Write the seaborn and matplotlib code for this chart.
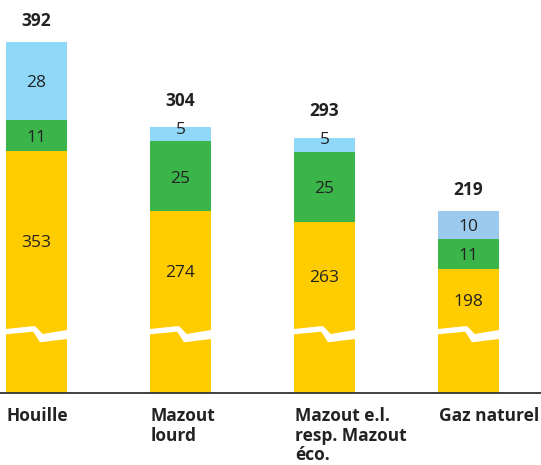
"""
Stacked bars with a broken (compressed) base segment.
"""

import matplotlib
matplotlib.use('Agg')
import matplotlib.pyplot as plt
import seaborn as sns
import numpy as np


# data
categories = ['Houille', 'Mazout\nlourd', 'Mazout e.l.\nresp. Mazout\néco.', 'Gaz naturel']
base_values = [353, 274, 263, 198]   # yellow
mid_values = [11, 25, 25, 11]        # green
top_values = [28, 5, 5, 10]          # light blue
totals = [392, 304, 293, 219]

# broken scale: bar tops follow the totals, small segments are enlarged
TOTAL_SCALE, TOTAL_SHIFT = 0.977, -32.0
SEG_SCALE = 2.8
BREAK_Y = 62.5

YELLOW = '#ffcc00'
GREEN = '#3bb54a'
BLUES = ['#8fd8f8', '#8fd8f8', '#8fd8f8', '#9ccaee']
TEXT = '#222222'
FONT = 'Open Sans'
FS = 12.5

BAR_W = 0.424
PX = 144.0  # pixels per category step


def main():
    sns.set_style('white')
    plt.rcParams['font.family'] = [FONT, 'DejaVu Sans']

    tot_h = np.array(totals) * TOTAL_SCALE + TOTAL_SHIFT
    top_h = np.array(top_values) * SEG_SCALE
    mid_h = np.array(mid_values) * SEG_SCALE
    base_h = tot_h - top_h - mid_h

    fig = plt.figure(figsize=(5.41, 4.65), dpi=100)
    ax = fig.add_axes([0, 0, 1, 1])

    bar_kw = dict(width=BAR_W, saturation=1, ax=ax, linewidth=0, edgecolor='none')
    sns.barplot(x=categories, y=tot_h, hue=categories, palette=BLUES, legend=False,
                zorder=2, **bar_kw)
    sns.barplot(x=categories, y=base_h + mid_h, color=GREEN, zorder=3, **bar_kw)
    sns.barplot(x=categories, y=base_h, color=YELLOW, zorder=4, **bar_kw)

    # break marks on the yellow segment
    top_edge = [(0, 63.5), (29, 66.5), (36.7, 58.5), (61, 62.5)]
    bot_edge = [(61, 53.5), (34, 50.2), (27.3, 60.8), (0, 58.2)]
    for i in range(len(categories)):
        left = i - BAR_W / 2
        pts = [(left + dx / PX, dy) for dx, dy in top_edge + bot_edge]
        ax.add_patch(plt.Polygon(pts, closed=True, facecolor='white',
                                 edgecolor='none', zorder=5))

    half_cap = 6.2
    for i in range(len(categories)):
        segs = [(BREAK_Y, base_h[i] - BREAK_Y, base_values[i]),
                (base_h[i], mid_h[i], mid_values[i]),
                (base_h[i] + mid_h[i], top_h[i], top_values[i])]
        for y0, h, v in segs:
            yc = y0 + h / 2
            if h < 18:
                yc += 7
            ax.text(i, yc - half_cap, str(v), ha='center', va='baseline',
                    fontsize=FS, color=TEXT, zorder=6)
        gap = 28 if top_h[i] < 18 else 22
        ax.text(i, tot_h[i] + gap - half_cap, str(totals[i]), ha='center',
                va='baseline', fontsize=FS, fontweight='bold', color=TEXT, zorder=6)
        for k, line in enumerate(categories[i].split('\n')):
            ax.text(i - BAR_W / 2 + 1 / PX, -28.9 - k * 19.3, line, ha='left',
                    va='baseline', fontsize=FS, fontweight='bold', color=TEXT)

    ax.axhline(0, color='#333333', lw=1.3, zorder=7)

    ax.set_xlim(-36.5 / PX, (541 - 36.5) / PX)
    ax.set_ylim(-72.5, 392.5)
    ax.axis('off')

    fig.savefig('out.png', dpi=100)
    plt.close(fig)


if __name__ == '__main__':
    main()
